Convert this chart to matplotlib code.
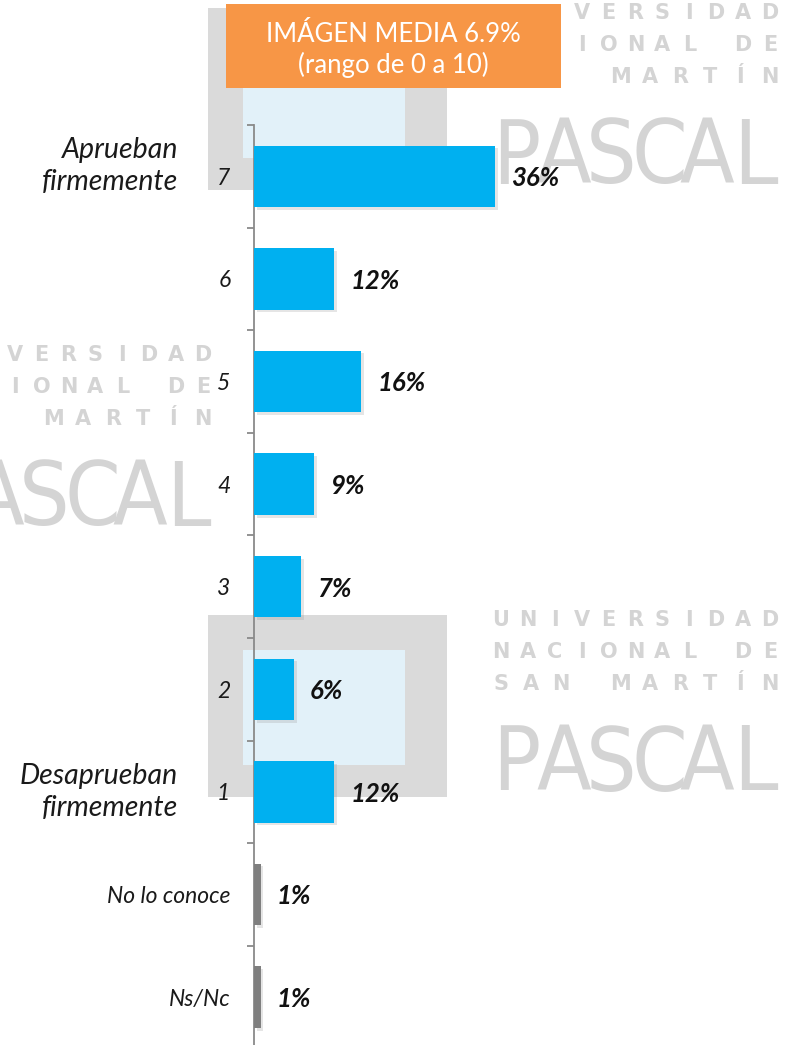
import matplotlib
matplotlib.use('Agg')
import matplotlib.pyplot as plt
from matplotlib.patches import Rectangle
from matplotlib import font_manager as fm
import matplotlib.patheffects as pe

# ---------------- data ----------------
categories = ['7', '6', '5', '4', '3', '2', '1', 'No lo conoce', 'Ns/Nc']
values = [36, 12, 16, 9, 7, 6, 12, 1, 1]
bar_colors = ['#00B0F0'] * 7 + ['#7F7F7F'] * 2
value_labels = [f'{v}%' for v in values]
group_labels = {0: 'Aprueban\nfirmemente', 6: 'Desaprueban\nfirmemente'}
title_text = 'IMÁGEN MEDIA 6.9%\n(rango de 0 a 10)'
wm_rows = ['UNIVERSIDAD', 'NACIONAL DE', 'SAN MARTÍN']
wm_big = 'PASCAL'

plt.rcParams['font.family'] = ['Lato', 'DejaVu Sans']

W, H = 792, 1045
fig = plt.figure(figsize=(W / 100, H / 100), dpi=100)
fig.patch.set_facecolor('white')


def fx(x):
    return x / W


def fy(y):
    return 1 - y / H


# pick a condensed font for the watermark, if one is installed
cond_path = None
for f in fm.fontManager.ttflist:
    nm = (f.name + ' ' + f.fname).lower()
    if ('condensed' in nm or 'narrow' in nm) and f.style == 'normal':
        w = f.weight if isinstance(f.weight, int) else 400
        if w <= 400 and 'bold' not in nm:
            cond_path = f.fname
            break
if cond_path:
    big_fp = fm.FontProperties(fname=cond_path, size=64)
else:
    big_fp = fm.FontProperties(family=['Liberation Sans', 'DejaVu Sans'], size=52)

# ---------------- watermark logos ----------------
WM_TEXT = '#d4d4d4'


def draw_logo(dx, dy, book=True, hide_x=-1e9):
    if book:
        fig.patches.append(Rectangle((fx(208 + dx), fy(797 + dy)), 239 / W, 182 / H,
                                     transform=fig.transFigure, facecolor='#dadada',
                                     edgecolor='none', zorder=0.1))
        fig.patches.append(Rectangle((fx(243 + dx), fy(765 + dy)), 162 / W, 115 / H,
                                     transform=fig.transFigure, facecolor='#e2f1f9',
                                     edgecolor='none', zorder=0.2))
    left, right = 501 + dx, 770 + dx
    for row, yc in zip(wm_rows, [620, 652, 684]):
        n = len(row)
        step = (right - left) / (n - 1)
        for i, ch in enumerate(row):
            xc = left + i * step
            if xc < 8 or xc < hide_x:
                continue
            fig.text(fx(xc), fy(yc + dy), ch, ha='center', va='center',
                     fontsize=15, color=WM_TEXT, family=['DejaVu Sans'],
                     fontweight='bold', zorder=0.3)
    pl, pr = 516 + dx, 755 + dx
    step = (pr - pl) / (len(wm_big) - 1)
    for i, ch in enumerate(wm_big):
        xc = pl + i * step
        if xc < -25:
            continue
        fig.text(fx(xc), fy(766 + dy), ch, ha='center', va='center',
                 fontproperties=big_fp, color=WM_TEXT, zorder=0.3)


draw_logo(0, -607, hide_x=572)
draw_logo(-567, -265, book=False)
draw_logo(0, 0)

# ---------------- axes ----------------
ax_left = 254
ax_top = 125
ax = fig.add_axes([fx(ax_left), 0, (W - ax_left) / W, (H - ax_top) / H])
ax.set_zorder(1)
ax.patch.set_alpha(0)

y = list(range(len(categories)))
bars = ax.barh(y, values, height=0.6, color=bar_colors, zorder=3)
for b in bars:
    b.set_path_effects([pe.SimplePatchShadow(offset=(2, -2), shadow_rgbFace='#999999', alpha=0.25),
                        pe.Normal()])

ax.set_xlim(0, 80.3)
ax.set_ylim(8.467, -0.5)

for s in ['top', 'right', 'bottom']:
    ax.spines[s].set_visible(False)
ax.spines['left'].set_color('#8a8a8a')
ax.spines['left'].set_linewidth(1.3)
ax.set_xticks([])

ax.set_yticks(y)
ax.set_yticklabels(categories, fontstyle='italic', fontsize=16.5, color='#1a1a1a')
ax.tick_params(axis='y', which='major', length=0, pad=17)
ax.set_yticks([i - 0.5 for i in range(len(categories))], minor=True)
ax.tick_params(axis='y', which='minor', length=5, width=1.3, color='#8a8a8a', direction='out')

for i, (v, lab) in enumerate(zip(values, value_labels)):
    ax.annotate(lab, xy=(v, i), xytext=(16, -2), textcoords='offset pixels',
                ha='left', va='center', fontsize=18.5, fontweight='bold',
                fontstyle='italic', color='#111111', zorder=5)

group_offsets = {0: 10, 6: 0}
for i, txt in group_labels.items():
    ax.annotate(txt, xy=(0, i), xycoords='data',
                xytext=(-76, group_offsets[i]), textcoords='offset pixels',
                ha='right', va='center', fontsize=20.5, fontstyle='italic',
                color='#1a1a1a', linespacing=1.3, annotation_clip=False)

# ---------------- title box ----------------
fig.patches.append(Rectangle((fx(226), fy(88)), (561 - 226) / W, 84 / H,
                             transform=fig.transFigure, facecolor='#F79646',
                             edgecolor='none', zorder=5))
fig.text(fx(393.5), fy(50), title_text, ha='center', va='center', fontsize=18.5,
         color='white', linespacing=1.25, zorder=6)

fig.savefig('out.png', dpi=100, facecolor='white')
